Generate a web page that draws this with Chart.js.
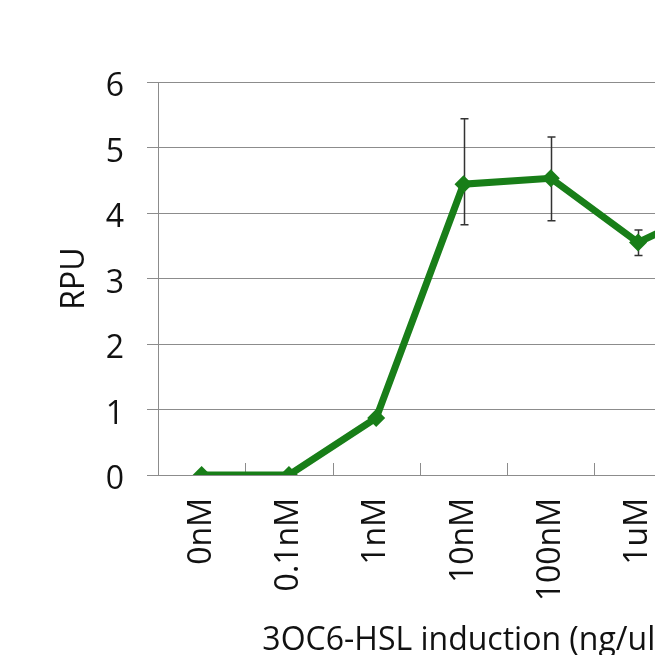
<!DOCTYPE html>
<html>
<head>
<meta charset="utf-8">
<script src="https://cdn.jsdelivr.net/npm/chart.js@4"></script>
<style>
  html, body { margin: 0; padding: 0; background: #fff; overflow: hidden; width: 655px; height: 655px; }
  #wrap { position: absolute; left: 0; top: 0; width: 790px; height: 680px; }
</style>
</head>
<body>
<div id="wrap"><canvas id="c" width="790" height="680"></canvas></div>
<script>
// Induction series: RPU response to 3OC6-HSL concentration
const concentrations = ['0nM', '0.1nM', '1nM', '10nM', '100nM', '1uM', '10uM'];
const rpu      = [0, 0, 0.87, 4.44, 4.53, 3.55, 4.18];
const errUp    = [0, 0, 0, 1.00, 0.63, 0.19, 0.20];
const errDown  = [0, 0, 0, 0.62, 0.65, 0.20, 0.20];
const yTicks   = [0, 1, 2, 3, 4, 5, 6];

const FONT = '"Open Sans", "Liberation Sans", sans-serif';
const GRID = '#8c8c8c';
const GREEN = '#187e18';
const TEXT = '#111';

// Short upward tick marks between categories on the x axis
const innerTicks = {
  id: 'innerTicks',
  beforeDatasetsDraw(chart) {
    const { ctx, scales: { x, y } } = chart;
    const base = y.getPixelForValue(0);
    ctx.save();
    ctx.strokeStyle = GRID;
    ctx.lineWidth = 1;
    for (let i = 1; i < concentrations.length; i++) {
      const px = Math.round((x.getPixelForValue(i - 1) + x.getPixelForValue(i)) / 2) + 0.5;
      ctx.beginPath();
      ctx.moveTo(px, base);
      ctx.lineTo(px, base - 12);
      ctx.stroke();
    }
    ctx.restore();
  }
};

// Vertical error bars with caps, drawn beneath the line
const errorBars = {
  id: 'errorBars',
  beforeDatasetsDraw(chart) {
    const { ctx, scales: { x, y } } = chart;
    ctx.save();
    ctx.strokeStyle = '#333';
    ctx.lineWidth = 1.5;
    rpu.forEach((v, i) => {
      if (!errUp[i] && !errDown[i]) return;
      const px = Math.round(x.getPixelForValue(i)) + 0.5;
      const top = y.getPixelForValue(v + errUp[i]);
      const bot = y.getPixelForValue(v - errDown[i]);
      ctx.beginPath();
      ctx.moveTo(px, top); ctx.lineTo(px, bot);
      ctx.moveTo(px - 4, top); ctx.lineTo(px + 4, top);
      ctx.moveTo(px - 4, bot); ctx.lineTo(px + 4, bot);
      ctx.stroke();
    });
    ctx.restore();
  }
};

new Chart(document.getElementById('c'), {
  type: 'line',
  data: {
    labels: concentrations,
    datasets: [{
      data: rpu,
      borderColor: GREEN,
      backgroundColor: GREEN,
      borderWidth: 7,
      pointStyle: 'rectRot',
      pointRadius: 9,
      pointBorderWidth: 0,
      tension: 0,
      fill: false
    }]
  },
  plugins: [innerTicks, errorBars],
  options: {
    responsive: false,
    animation: false,
    devicePixelRatio: 1,
    layout: { padding: { top: 82, right: 21, left: 0, bottom: 0 } },
    plugins: { legend: { display: false }, tooltip: { enabled: false } },
    scales: {
      x: {
        type: 'category',
        offset: true,
        afterFit: s => { s.height = 205; },
        grid: { display: true, drawOnChartArea: false, drawTicks: false },
        border: { display: true, color: GRID, width: 1 },
        ticks: {
          font: { family: FONT, size: 32 },
          color: TEXT,
          padding: 23,
          minRotation: 90,
          maxRotation: 90,
          autoSkip: false
        },
        title: {
          display: true,
          text: '3OC6-HSL induction (ng/ul)',
          font: { family: FONT, size: 32 },
          color: TEXT,
          padding: { top: 0, bottom: 20 }
        }
      },
      y: {
        min: 0,
        max: 6,
        afterBuildTicks: s => { s.ticks = yTicks.map(v => ({ value: v })); },
        afterFit: s => { s.width = 158; },
        grid: { color: GRID, lineWidth: 1, tickLength: 11, drawTicks: true },
        border: { display: true, color: GRID, width: 1 },
        ticks: {
          font: { family: FONT, size: 32 },
          color: TEXT,
          padding: 23,
          labelOffset: 5
        },
        title: {
          display: true,
          text: 'RPU',
          font: { family: FONT, size: 32 },
          color: TEXT,
          padding: { top: 56, bottom: 0 }
        }
      }
    }
  }
});
</script>
</body>
</html>
